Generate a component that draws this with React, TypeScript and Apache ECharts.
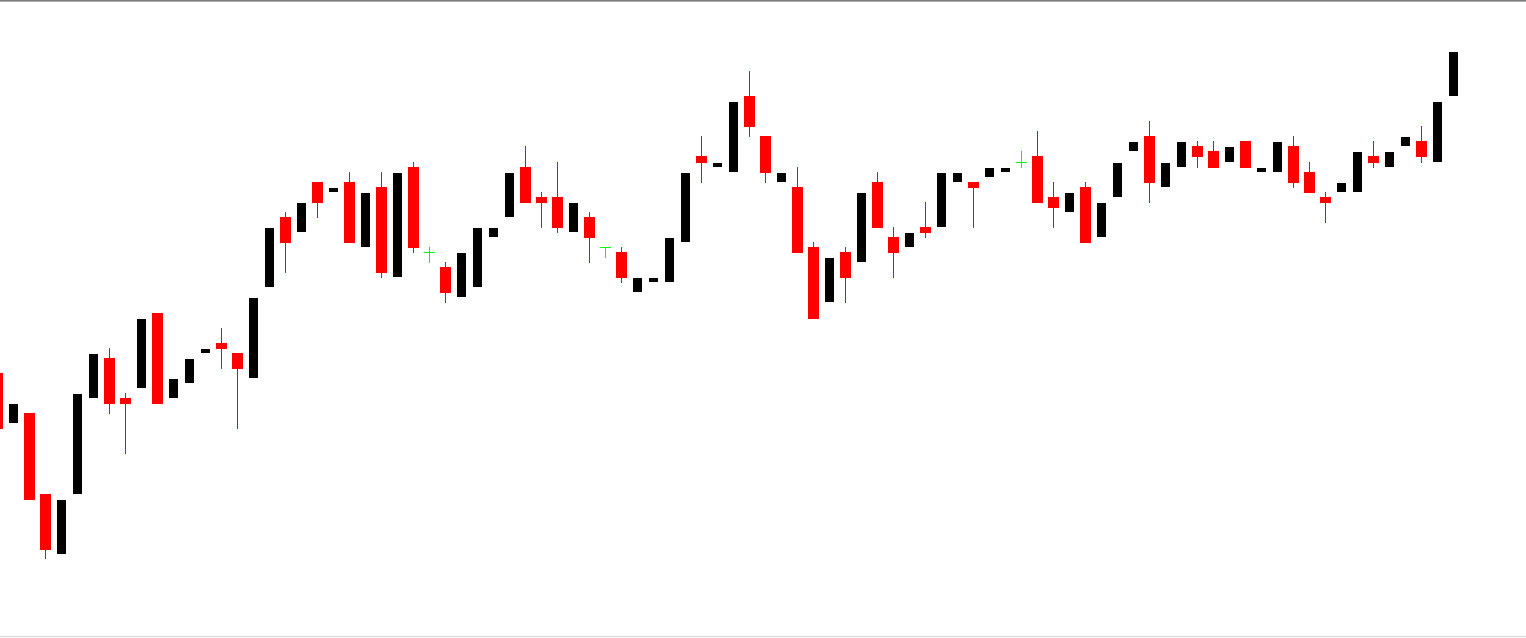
import React, { useEffect, useRef } from "react";
import * as echarts from "echarts";

// Candle values (price units; higher = up on screen)
const opens = [265,215,225,144,84,144,240,280,240,250,325,240,255,285,295,285,260,351,421,406,456,446,456,391,451,361,471,385.5,371,341,351,401,421,471,441,441,406,421,390.5,386,346,356,356,396,482,471,466,542,502,456,451,391,336,386,376,456,401,391,411,411,456,456,461,466,475.5,482,441,426,451,401,441,487,502,451,471,492,487,476,497,466,466,492,466,441,446,446,482,471,492,497,476,542];
const closes = [209,234,138,88,138,244,284,234,234,319,234,259,279,289,289,269,340,410,395,435,435,450,395,445,365,465,390,385.5,345,385,410,410,465,435,435,410,435,400,390.5,360,360,360,400,465,475,475,536,511,465,465,385,319,380,360,445,410,385,405,405,465,465,450,470,470,475.5,435,430,445,395,435,475,496,455,475,496,481,470,491,470,470,496,455,445,435,455,486,475,486,501,481,536,586];
const highs = [265,234,225,144,138,244,284,290,245,319,325,259,279,289,310,285,340,410,426,435,456,450,466,445,466,465,476,391,376,385,410,410,465,492,446,476,435,426,391,391,360,360,400,465,502,475,536,567,502,465,471,396,380,391,445,466,411,405,436,465,465,456,470,470,487,507,456,445,456,435,475,496,517,475,496,497,497,491,497,470,496,502,476,446,455,486,497,486,501,512,536,586];
const lows = [209,215,138,79,84,144,240,224,184,250,234,240,255,285,269,209,260,351,365,406,420,446,395,391,360,361,385,375,335,341,351,401,421,435,410,405,406,375,380,355,346,356,356,396,455,471,466,501,455,456,385,319,336,335,376,410,360,391,400,411,456,410,461,466,470,435,410,426,395,401,441,487,435,451,471,470,470,476,470,466,466,450,445,415,446,446,470,471,492,475,476,542];

const RED = "#ff0000";
const BLACK = "#000000";
const DOJI = "#00ff00";

export default function App() {
  const ref = useRef<HTMLDivElement>(null);
  useEffect(() => {
    if (!ref.current) return;
    const chart = echarts.init(ref.current, null, { renderer: "svg" });
    const data = opens.map((o, i) => [i, o, closes[i], lows[i], highs[i]]);
    // one bar slot = 16px; first candle centred 2.5px left of the edge
    const xMin = 2.5 / 16;
    const xMax = xMin + 1526 / 16;
    chart.setOption({
      animation: false,
      backgroundColor: "#ffffff",
      grid: { left: 0, top: 0, right: 0, bottom: 0 },
      xAxis: { type: "value", min: xMin, max: xMax, show: false, splitLine: { show: false } },
      yAxis: { type: "value", min: 0, max: 638, show: false, splitLine: { show: false } },
      graphic: [
        { type: "line", shape: { x1: 0, y1: 0.5, x2: 1526, y2: 0.5 }, style: { stroke: "#7a7a7a", lineWidth: 1 } },
        { type: "line", shape: { x1: 0, y1: 1.5, x2: 1526, y2: 1.5 }, style: { stroke: "#b0b0b0", lineWidth: 1 } },
        { type: "line", shape: { x1: 0, y1: 636.5, x2: 1526, y2: 636.5 }, style: { stroke: "#d8d8d8", lineWidth: 1 } },
      ],
      series: [
        {
          type: "custom",
          clip: false,
          data,
          encode: { x: 0, y: [1, 2, 3, 4] },
          renderItem: (params: any, api: any) => {
            const idx = api.value(0);
            const o = api.value(1);
            const c = api.value(2);
            const l = api.value(3);
            const h = api.value(4);
            const po = api.coord([idx, o]);
            const pc = api.coord([idx, c]);
            const pl = api.coord([idx, l]);
            const ph = api.coord([idx, h]);
            const x = po[0];
            const children: any[] = [];
            if (o === c) {
              children.push({
                type: "line",
                shape: { x1: x, y1: ph[1], x2: x, y2: pl[1] },
                style: { stroke: DOJI, lineWidth: 1 },
              });
              children.push({
                type: "line",
                shape: { x1: x - 5.5, y1: po[1], x2: x + 5.5, y2: po[1] },
                style: { stroke: DOJI, lineWidth: 1 },
              });
              return { type: "group", children };
            }
            const bear = o > c;
            const color = bear ? RED : BLACK;
            const half = bear ? 5.5 : 4.5;
            if (ph[1] < pl[1] - 0.01) {
              children.push({
                type: "line",
                shape: { x1: x, y1: ph[1], x2: x, y2: pl[1] },
                style: { stroke: color, lineWidth: 1 },
              });
            }
            const yTop = Math.min(po[1], pc[1]);
            const yBot = Math.max(po[1], pc[1]);
            children.push({
              type: "rect",
              shape: { x: x - half, y: yTop, width: half * 2, height: yBot - yTop },
              style: { fill: color, stroke: null },
            });
            return { type: "group", children };
          },
        },
      ],
    });
    return () => chart.dispose();
  }, []);
  return (
    <div
      ref={ref}
      style={{ position: "fixed", left: 0, top: 0, width: 1526, height: 638 }}
    />
  );
}
